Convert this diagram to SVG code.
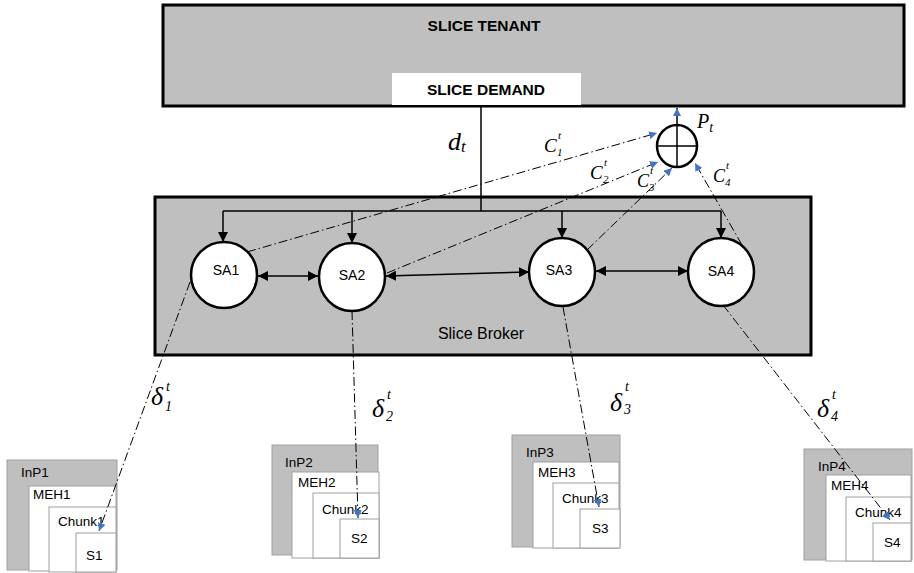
<svg xmlns="http://www.w3.org/2000/svg" width="914" height="573" viewBox="0 0 914 573">
<style>
.big{fill:#bfbfbf;stroke:#000;stroke-width:3}
.hdr{font-family:"Liberation Sans",Arial,sans-serif;font-weight:bold;font-size:15.5px;fill:#000;text-anchor:middle}
.lbl{font-family:"Liberation Sans",Arial,sans-serif;font-size:16px;fill:#000}
.sa{fill:#fff;stroke:#000;stroke-width:2.5}
.satx{font-family:"Liberation Sans",Arial,sans-serif;font-size:14px;fill:#000;text-anchor:middle}
.inp{fill:#bfbfbf;stroke:#a0a0a0;stroke-width:1}
.wb{fill:#fff;stroke:#a0a0a0;stroke-width:1}
.sm{font-family:"Liberation Sans",Arial,sans-serif;font-size:13.5px;fill:#000}
.math{font-family:"Liberation Serif","Times New Roman",serif;font-style:italic;fill:#000}
.solid{fill:none;stroke:#000;stroke-width:1.5}
.dd{fill:none;stroke:#000;stroke-width:1;stroke-dasharray:9 3 1.5 3}
</style>
<defs>
<marker id="ab" markerUnits="userSpaceOnUse" markerWidth="10" markerHeight="10" viewBox="0 0 10 10" refX="10" refY="5" orient="auto-start-reverse"><path d="M0,0 L10,5 L0,10 z" fill="#000"/></marker>
<marker id="bl" markerUnits="userSpaceOnUse" markerWidth="8" markerHeight="8" viewBox="0 0 10 10" refX="10" refY="5" orient="auto"><path d="M0,0 L10,5 L0,10 z" fill="#4472c4"/></marker>
</defs>

<g id="tenant">
<rect class="big" x="163" y="5" width="741" height="101"/>
<text class="hdr" x="484" y="31">SLICE TENANT</text>
<rect x="392" y="73" width="189" height="32" fill="#fff"/>
<text class="hdr" x="486" y="95">SLICE DEMAND</text>
</g>

<g id="broker">
<rect class="big" x="155" y="197" width="656" height="158"/>
<text class="lbl" x="481" y="339" text-anchor="middle">Slice Broker</text>
</g>

<g id="SA1"><ellipse class="sa" cx="224" cy="275" rx="33" ry="33"/><text class="satx" x="226" y="275">SA1</text></g>
<g id="SA2"><ellipse class="sa" cx="352" cy="277" rx="33" ry="34"/><text class="satx" x="352" y="280">SA2</text></g>
<g id="SA3"><ellipse class="sa" cx="562" cy="272" rx="33" ry="34"/><text class="satx" x="559" y="275">SA3</text></g>
<g id="SA4"><ellipse class="sa" cx="721" cy="272" rx="33" ry="34"/><text class="satx" x="721" y="276">SA4</text></g>

<g id="Pt">
<ellipse cx="677" cy="146" rx="20" ry="21" fill="#fff" stroke="#000" stroke-width="2.5"/>
<path d="M657,146 H697 M677,125 V167" stroke="#000" stroke-width="1.5" fill="none"/>
<text class="math" x="697" y="128" font-size="20">P<tspan font-size="14" dy="4">t</tspan></text>
</g>

<g id="InP1">
<rect class="inp" x="7" y="460" width="110" height="110"/>
<rect class="wb" x="29" y="486" width="87" height="85"/>
<rect class="wb" x="49" y="507" width="67" height="65"/>
<rect class="wb" x="76" y="533" width="40" height="39"/>
<text class="sm" x="21" y="477">InP1</text>
<text class="sm" x="33" y="499">MEH1</text>
<text class="sm" x="58" y="526">Chunk1</text>
<text class="sm" x="86" y="560">S1</text>
</g>
<g id="InP2">
<rect class="inp" x="272" y="445" width="106" height="110"/>
<rect class="wb" x="292" y="472" width="87" height="86"/>
<rect class="wb" x="313" y="493" width="66" height="65"/>
<rect class="wb" x="340" y="519" width="39" height="39"/>
<text class="sm" x="285" y="467">InP2</text>
<text class="sm" x="298" y="487">MEH2</text>
<text class="sm" x="322" y="514">Chunk2</text>
<text class="sm" x="351" y="543">S2</text>
</g>
<g id="InP3">
<rect class="inp" x="512" y="435" width="108" height="112"/>
<rect class="wb" x="533" y="462" width="86" height="86"/>
<rect class="wb" x="553" y="483" width="66" height="65"/>
<rect class="wb" x="580" y="509" width="40" height="39"/>
<text class="sm" x="526" y="457">InP3</text>
<text class="sm" x="538" y="477">MEH3</text>
<text class="sm" x="562" y="503">Chunk3</text>
<text class="sm" x="592" y="533">S3</text>
</g>
<g id="InP4">
<rect class="inp" x="804" y="449" width="108" height="111"/>
<rect class="wb" x="826" y="475" width="85" height="86"/>
<rect class="wb" x="846" y="497" width="65" height="64"/>
<rect class="wb" x="873" y="523" width="38" height="38"/>
<text class="sm" x="818" y="471">InP4</text>
<text class="sm" x="831" y="490">MEH4</text>
<text class="sm" x="855" y="517">Chunk4</text>
<text class="sm" x="884" y="547">S4</text>
</g>

<g id="connectors">
<path class="solid" d="M481,106 V211 M223,211 H721"/>
<path class="solid" d="M223,211 V242" marker-end="url(#ab)"/>
<path class="solid" d="M352,211 V243" marker-end="url(#ab)"/>
<path class="solid" d="M562,211 V238" marker-end="url(#ab)"/>
<path class="solid" d="M721,211 V238" marker-end="url(#ab)"/>
<path class="solid" d="M258,276 H318" marker-start="url(#ab)" marker-end="url(#ab)"/>
<path class="solid" d="M386,276 L529,272" marker-start="url(#ab)" marker-end="url(#ab)"/>
<path class="solid" d="M596,271 H688" marker-start="url(#ab)" marker-end="url(#ab)"/>
<path d="M677,125 V108" stroke="#000" stroke-width="1.5" fill="none" marker-end="url(#bl)"/>
<path class="dd" d="M247,252 L657,133" marker-end="url(#bl)"/>
<path class="dd" d="M387,273 L658,162" marker-end="url(#bl)"/>
<path class="dd" d="M587,250 L672,168" marker-end="url(#bl)"/>
<path class="dd" d="M742,245 L695,163" marker-end="url(#bl)"/>
<path class="dd" d="M190,282 L99,531" marker-end="url(#bl)"/>
<path class="dd" d="M352,311 L358,518" marker-end="url(#bl)"/>
<path class="dd" d="M563,307 L599,507" marker-end="url(#bl)"/>
<path class="dd" d="M723,305 L890,520" marker-end="url(#bl)"/>
<text class="math" x="448" y="150" font-size="26">d<tspan font-size="17" dy="2">t</tspan></text>
<text class="math" x="544" y="152" font-size="19">C</text><text class="math" x="558" y="139" font-size="11">t</text><text class="math" x="557" y="156" font-size="11">1</text>
<text class="math" x="590" y="179" font-size="19">C</text><text class="math" x="604" y="166" font-size="11">t</text><text class="math" x="603" y="183" font-size="11">2</text>
<text class="math" x="637" y="187" font-size="18">C</text><text class="math" x="650" y="174" font-size="11">t</text><text class="math" x="649" y="191" font-size="11">3</text>
<text class="math" x="713" y="182" font-size="18">C</text><text class="math" x="726" y="169" font-size="11">t</text><text class="math" x="725" y="186" font-size="11">4</text>
<text class="math" x="151" y="405" font-size="26">δ</text><text class="math" x="166" y="391" font-size="14">t</text><text class="math" x="165" y="411" font-size="14">1</text>
<text class="math" x="372" y="417" font-size="26">δ</text><text class="math" x="387" y="399" font-size="14">t</text><text class="math" x="386" y="421" font-size="14">2</text>
<text class="math" x="610" y="411" font-size="26">δ</text><text class="math" x="625" y="391" font-size="14">t</text><text class="math" x="624" y="414" font-size="14">3</text>
<text class="math" x="817" y="417" font-size="26">δ</text><text class="math" x="832" y="399" font-size="14">t</text><text class="math" x="831" y="421" font-size="14">4</text>
</g>
</svg>
